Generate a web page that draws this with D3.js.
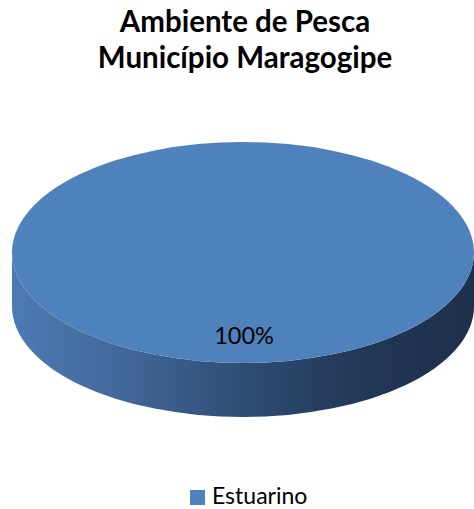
<!DOCTYPE html>
<html>
<head>
<meta charset="utf-8">
<script src="https://cdn.jsdelivr.net/npm/d3@7"></script>
<style>
  html, body { margin: 0; padding: 0; background: #fff; }
  svg { display: block; }
</style>
</head>
<body>
<div id="chart"></div>
<script>
// Pie data: fishing environment, municipality of Maragogipe
const titleLines = ["Ambiente de Pesca", "Município Maragogipe"];
const categories = ["Estuarino"];
const values = [100];
const colors = ["#4F81BD"];

const W = 474, H = 509;
const font = "Lato, 'Open Sans', sans-serif";

const svg = d3.select("#chart").append("svg")
  .attr("width", W).attr("height", H);

// Title
svg.append("g").selectAll("text")
  .data(titleLines).join("text")
  .attr("x", 245)
  .attr("y", (d, i) => 32 + i * 36)
  .attr("text-anchor", "middle")
  .attr("font-family", font)
  .attr("font-weight", "bold")
  .attr("font-size", 29.5)
  .attr("fill", "#000")
  .text(d => d);

// 3D pie geometry (elliptical projection)
const cx = 243, cy = 252.5, rx = 231, ry = 110.5, depth = 54;
const color = d3.scaleOrdinal().domain(categories).range(colors);
const pie = d3.pie().sort(null).startAngle(0).endAngle(2 * Math.PI);
const arcs = pie(values).map((a, i) => ({ ...a, cat: categories[i] }));

const px = t => cx + rx * Math.sin(t);
const py = (t, dz = 0) => cy - ry * Math.cos(t) + dz;

// Top face of a slice
function topPath(a) {
  const full = a.endAngle - a.startAngle >= 2 * Math.PI - 1e-6;
  if (full) {
    return `M${cx - rx},${cy}A${rx},${ry} 0 1 1 ${cx + rx},${cy}A${rx},${ry} 0 1 1 ${cx - rx},${cy}Z`;
  }
  const large = a.endAngle - a.startAngle > Math.PI ? 1 : 0;
  return `M${cx},${cy}L${px(a.startAngle)},${py(a.startAngle)}` +
    `A${rx},${ry} 0 ${large} 1 ${px(a.endAngle)},${py(a.endAngle)}Z`;
}

// Visible outer wall: portion of slice within the front half (angles π/2..3π/2)
function sidePath(a) {
  const s = Math.max(a.startAngle, Math.PI / 2);
  const e = Math.min(a.endAngle, 3 * Math.PI / 2);
  if (e <= s) return null;
  return `M${px(s)},${py(s)}A${rx},${ry} 0 0 1 ${px(e)},${py(e)}` +
    `L${px(e)},${py(e, depth)}A${rx},${ry} 0 0 0 ${px(s)},${py(s, depth)}Z`;
}

const defs = svg.append("defs");
const grad = defs.append("linearGradient")
  .attr("id", "sideGrad")
  .attr("gradientUnits", "userSpaceOnUse")
  .attr("x1", cx - rx).attr("y1", 0)
  .attr("x2", cx + rx).attr("y2", 0);
[[0, "#4c7ab3"], [0.2, "#446b9e"], [0.5, "#2f4d74"], [0.72, "#233a5a"], [0.88, "#1f3250"], [1, "#1e3049"]]
  .forEach(([o, c]) => grad.append("stop").attr("offset", o).attr("stop-color", c));

const g = svg.append("g");
g.selectAll("path.side")
  .data(arcs.filter(a => sidePath(a)))
  .join("path")
  .attr("class", "side")
  .attr("d", sidePath)
  .attr("fill", "url(#sideGrad)");

g.selectAll("path.top")
  .data(arcs).join("path")
  .attr("class", "top")
  .attr("d", topPath)
  .attr("fill", d => color(d.cat));

// Value label
const total = d3.sum(values);
g.selectAll("text.val")
  .data(arcs).join("text")
  .attr("class", "val")
  .attr("x", cx + 1)
  .attr("y", 344)
  .attr("text-anchor", "middle")
  .attr("font-family", font)
  .attr("font-size", 23.5)
  .attr("fill", "#000")
  .text(d => Math.round(d.value / total * 100) + "%");

// Legend
const leg = svg.append("g").selectAll("g")
  .data(categories).join("g")
  .attr("transform", "translate(190,490)");
leg.append("rect")
  .attr("width", 15).attr("height", 15)
  .attr("fill", d => color(d));
leg.append("text")
  .attr("x", 22).attr("y", 14)
  .attr("font-family", font)
  .attr("font-size", 23)
  .attr("fill", "#000")
  .text(d => d);
</script>
</body>
</html>
